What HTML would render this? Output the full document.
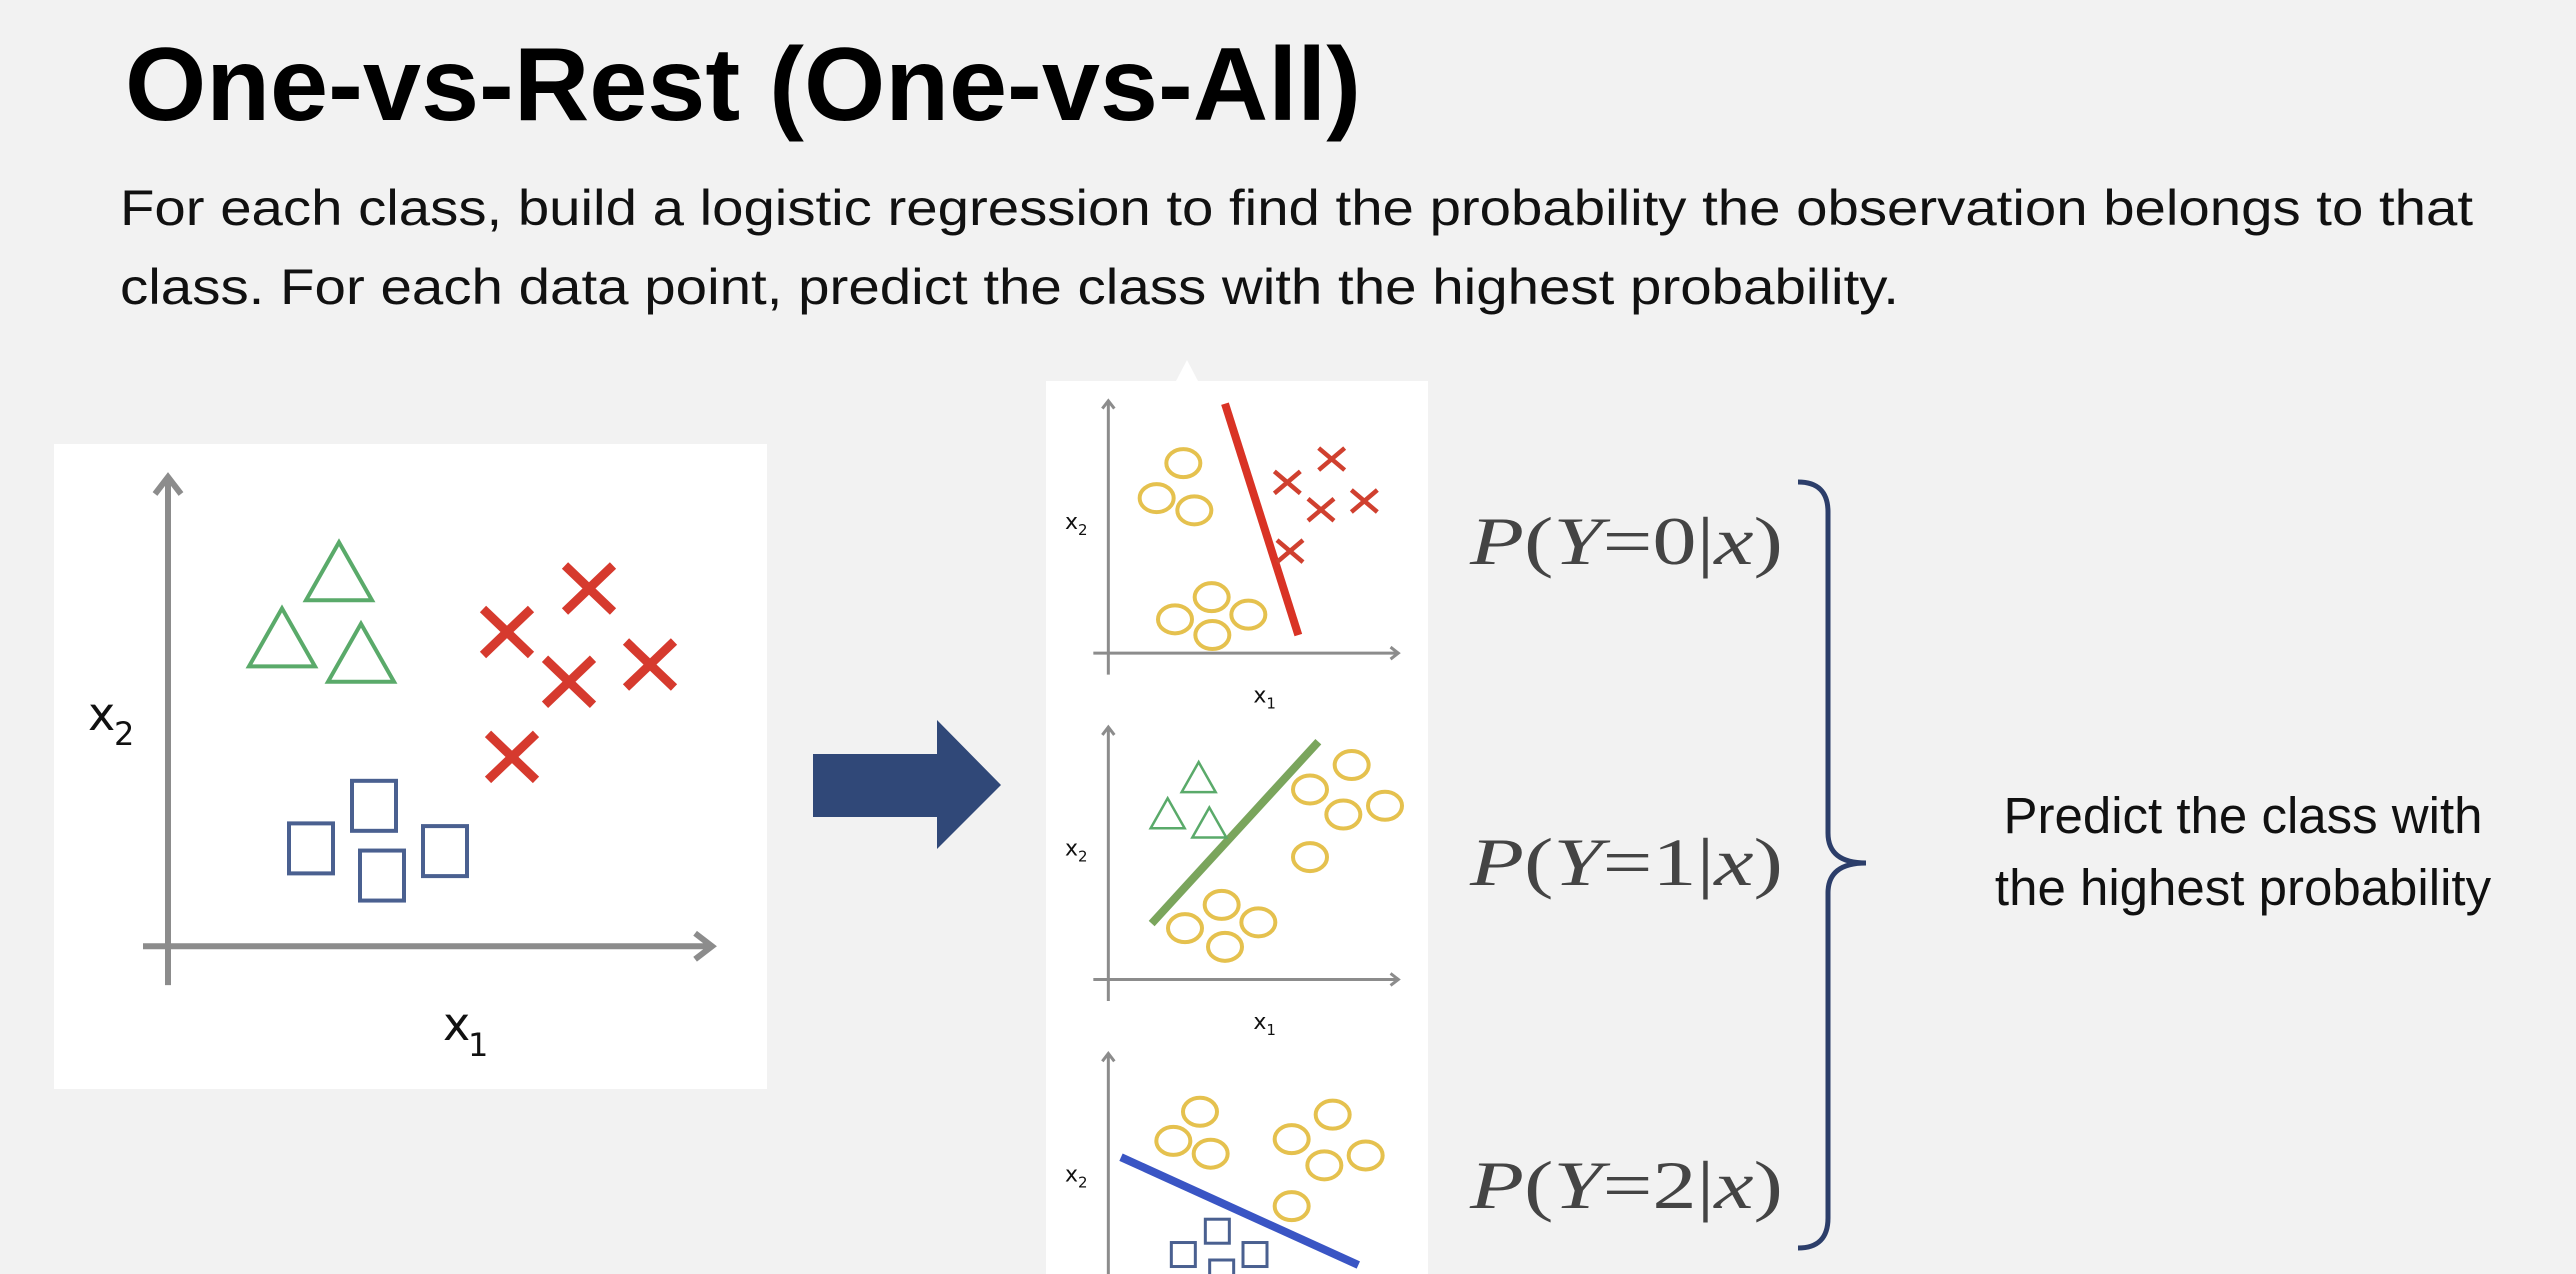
<!DOCTYPE html>
<html><head><meta charset="utf-8"><style>
html,body{margin:0;padding:0;background:#f2f2f2;}
svg{display:block;}
</style></head><body>
<svg id="s" width="2576" height="1274" viewBox="0 0 2576 1274" xmlns="http://www.w3.org/2000/svg">
<rect width="2576" height="1274" fill="#f2f2f2"/>
<text x="125" y="120" font-family="Liberation Sans, sans-serif" font-weight="bold" font-size="104" textLength="1236" lengthAdjust="spacingAndGlyphs" fill="#000">One-vs-Rest (One-vs-All)</text>
<text x="120" y="225" font-family="Liberation Sans, sans-serif" font-size="50" textLength="2353" lengthAdjust="spacingAndGlyphs" fill="#111">For each class, build a logistic regression to find the probability the observation belongs to that</text>
<text x="120" y="304" font-family="Liberation Sans, sans-serif" font-size="50" textLength="1779" lengthAdjust="spacingAndGlyphs" fill="#111">class. For each data point, predict the class with the highest probability.</text>

<rect x="54" y="444" width="713" height="645" fill="#fff"/>
<g id="main"></g>

<polygon points="813,754 937,754 937,720 1001,785 937,849 937,817 813,817" fill="#304878"/>

<rect x="1046" y="381" width="382" height="893" fill="#fff"/>
<polygon points="1176,381 1198,381 1187,360" fill="#fff"/>
<g id="sub"></g>

<g font-family="Liberation Serif, DejaVu Serif, serif" font-size="68" fill="#444">
<text x="1470" y="564" textLength="313" lengthAdjust="spacingAndGlyphs"><tspan font-style="italic">P</tspan>(<tspan font-style="italic">Y</tspan>=0|<tspan font-style="italic">x</tspan>)</text>
<text x="1470" y="885" textLength="313" lengthAdjust="spacingAndGlyphs"><tspan font-style="italic">P</tspan>(<tspan font-style="italic">Y</tspan>=1|<tspan font-style="italic">x</tspan>)</text>
<text x="1470" y="1208" textLength="313" lengthAdjust="spacingAndGlyphs"><tspan font-style="italic">P</tspan>(<tspan font-style="italic">Y</tspan>=2|<tspan font-style="italic">x</tspan>)</text>
</g>
<path d="M1798,482 Q1828,482 1828,512 L1828,833 Q1828,863 1866,863 Q1828,863 1828,893 L1828,1218 Q1828,1248 1798,1248" fill="none" stroke="#2c3e6a" stroke-width="5"/>
<text x="2243" y="833" text-anchor="middle" font-family="Liberation Sans, sans-serif" font-size="51" fill="#111">Predict the class with</text>
<text x="2243" y="905" text-anchor="middle" font-family="Liberation Sans, sans-serif" font-size="51" fill="#111">the highest probability</text>
</svg>
<script>
const NS="http://www.w3.org/2000/svg";
// Main plot data (pre-mapped illustration positions)
const mainTriangles=[[339,554],[282,627],[361,644]];
const mainCrosses=[[507,653],[589,605],[569,708],[650,689],[512,791]];
const mainSquares=[[311,892],[374,845],[382,922],[445,895]];
// Subplot data (zoom coordinates)
const sub1Circles=[[430,177],[350,237],[463,258],[515,407],[405,445],[517,472],[625,437]];
const sub1Crosses=[[742,210],[875,170],[843,257],[973,242],[750,328]];
const sub2Triangles=[[476,690],[383,752],[508,768]];
const sub2Circles=[[935,695],[810,737],[910,780],[1035,765],[810,853],[545,935],[435,975],[655,965],[555,1007]];
const sub3Circles=[[480,1290],[400,1340],[512,1362],[755,1337],[878,1295],[853,1382],[977,1365],[755,1452]];
const sub3Squares=[[532,1495],[430,1535],[545,1565],[645,1535]];
function mk(p,tag,a){const e=document.createElementNS(NS,tag);for(const k in a)e.setAttribute(k,a[k]);p.appendChild(e);return e;}
function axes(g,x0,yTop,yBot,xL,xR,yAx,w,ah){
  mk(g,'path',{d:`M${x0},${yBot}L${x0},${yTop}M${x0-ah},${yTop+ah*1.3}L${x0},${yTop}L${x0+ah},${yTop+ah*1.3}M${xL},${yAx}L${xR},${yAx}M${xR-ah*1.3},${yAx-ah}L${xR},${yAx}L${xR-ah*1.3},${yAx+ah}`,stroke:'#8c8c8c','stroke-width':w,fill:'none'});
}
const main=document.getElementById('main');
const MY=y=>430+(y-430)*0.9056;
axes(main,168,MY(482),MY(1043),143,712,MY(1000),6,13);
mainTriangles.forEach(([x,y])=>{const yy=MY(y);const t=mk(main,'polygon',{points:`${x},${yy} ${x-33},${yy+58} ${x+33},${yy+58}`,fill:'none',stroke:'#5aaa6a','stroke-width':4});

});
mainCrosses.forEach(([x,y])=>{const yy=MY(y);const c=mk(main,'path',{d:`M${x-24},${yy-23}L${x+24},${yy+23}M${x+24},${yy-23}L${x-24},${yy+23}`,stroke:'#d63a2e','stroke-width':9});

});
mainSquares.forEach(([x,y])=>{const yy=MY(y);const s=mk(main,'rect',{x:x-22,y:yy-25,width:44,height:50,fill:'none',stroke:'#4a6090','stroke-width':4});

});
let t1=mk(main,'text',{x:88,y:730,'font-family':'DejaVu Sans, sans-serif','font-size':46,fill:'#111'});t1.textContent='x';
let t1s=mk(main,'text',{x:114,y:745,'font-family':'DejaVu Sans, sans-serif','font-size':32,fill:'#111'});t1s.textContent='2';
let t2=mk(main,'text',{x:443,y:1040,'font-family':'DejaVu Sans, sans-serif','font-size':46,fill:'#111'});t2.textContent='x';
let t2s=mk(main,'text',{x:468,y:1056,'font-family':'DejaVu Sans, sans-serif','font-size':32,fill:'#111'});t2s.textContent='1';



const sub=document.getElementById('sub');
const X=x=>1040+x/3, Y=y=>360+y/1.716;
const offs=[0,560,1120];
offs.forEach((o,i)=>{
  axes(sub,X(205),Y(70+o),Y(540+o),X(160),X(1075),Y(503+o),3,6);
  const a=mk(sub,'text',{x:X(75),y:Y(290+o),'font-family':'DejaVu Sans, sans-serif','font-size':22,fill:'#111'});a.textContent='x';
  const as=mk(sub,'text',{x:X(75)+13,y:Y(290+o)+6,'font-family':'DejaVu Sans, sans-serif','font-size':15,fill:'#111'});as.textContent='2';
  
  if(i<2){const b=mk(sub,'text',{x:X(640),y:Y(588+o),'font-family':'DejaVu Sans, sans-serif','font-size':22,fill:'#111'});b.textContent='x';
  const bs=mk(sub,'text',{x:X(640)+13,y:Y(588+o)+6,'font-family':'DejaVu Sans, sans-serif','font-size':15,fill:'#111'});bs.textContent='1';
  }
});
function circ(arr){arr.forEach(([x,y])=>{const c=mk(sub,'ellipse',{cx:X(x),cy:Y(y),rx:17,ry:14,fill:'none',stroke:'#e5c14e','stroke-width':4});

});}
circ(sub1Circles);circ(sub2Circles);circ(sub3Circles);
let l1=mk(sub,'line',{x1:X(555),y1:Y(75),x2:X(775),y2:Y(472),stroke:'#d93325','stroke-width':8});

sub1Crosses.forEach(([x,y])=>{const cx=X(x),cy=Y(y);const c=mk(sub,'path',{d:`M${cx-13},${cy-11}L${cx+13},${cy+11}M${cx+13},${cy-11}L${cx-13},${cy+11}`,stroke:'#d0402f','stroke-width':4.5});

});
let l2=mk(sub,'line',{x1:X(335),y1:Y(967),x2:X(835),y2:Y(655),stroke:'#7aa55c','stroke-width':8});

sub2Triangles.forEach(([x,y])=>{const cx=X(x),cy=Y(y);const t=mk(sub,'polygon',{points:`${cx},${cy} ${cx-17},${cy+30} ${cx+17},${cy+30}`,fill:'none',stroke:'#5aaa6a','stroke-width':2.5});

});
let l3=mk(sub,'line',{x1:X(243),y1:Y(1368),x2:X(955),y2:Y(1553),stroke:'#3a55c4','stroke-width':8});

sub3Squares.forEach(([x,y])=>{const cx=X(x),cy=Y(y);const s=mk(sub,'rect',{x:cx-12,y:cy-12,width:24,height:24,fill:'none',stroke:'#4a6090','stroke-width':3});

});
</script>
</body></html>
